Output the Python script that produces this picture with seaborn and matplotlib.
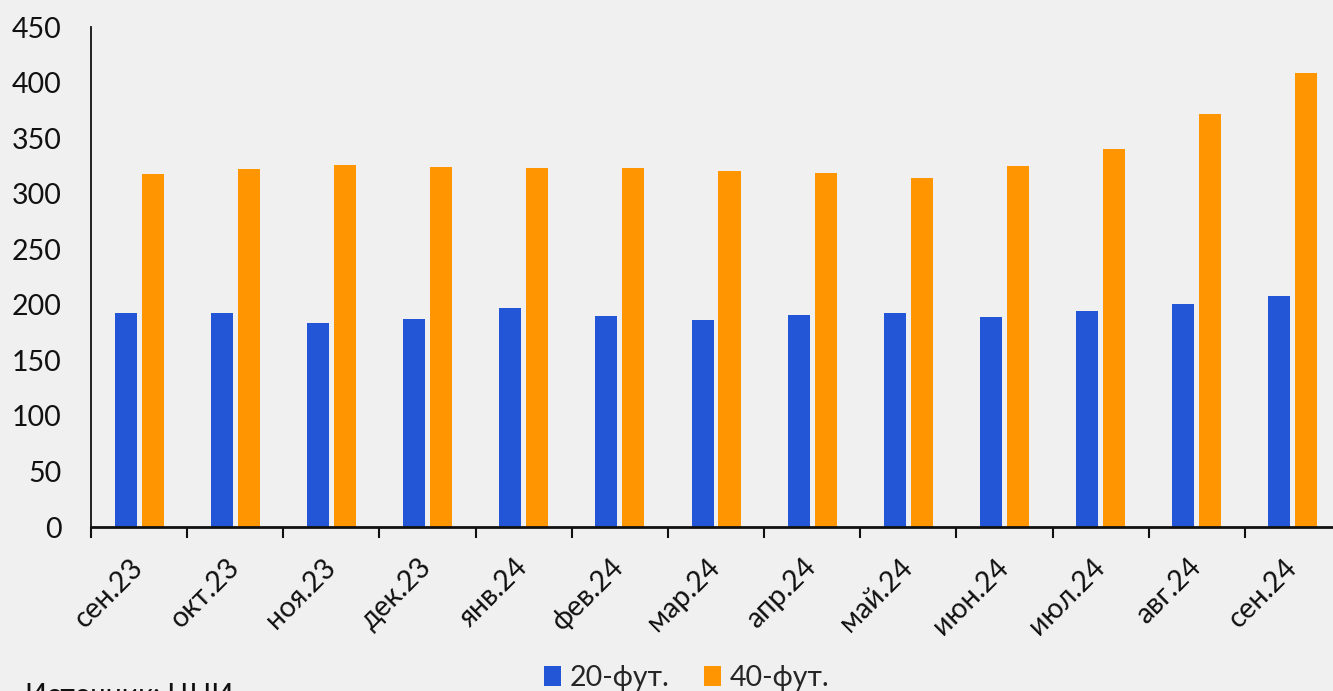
import numpy as np
import pandas as pd
import matplotlib
matplotlib.use("Agg")
import matplotlib.pyplot as plt
import seaborn as sns
from matplotlib.patches import Patch

months = ["сен.23", "окт.23", "ноя.23", "дек.23", "янв.24", "фев.24", "мар.24",
          "апр.24", "май.24", "июн.24", "июл.24", "авг.24", "сен.24"]
ft20 = [193, 193, 184, 187, 197, 190, 186, 191, 193, 189, 194, 201, 208]
ft40 = [318, 322, 326, 324, 323, 323, 320, 319, 314, 325, 340, 372, 409]
series_names = ["20-фут.", "40-фут."]
colors = ["#2356d6", "#ff9500"]
yticks = [0, 50, 100, 150, 200, 250, 300, 350, 400, 450]
source = "Источник: ЦНИ"

df = pd.DataFrame({
    "month": months * 2,
    "value": ft20 + ft40,
    "series": [series_names[0]] * len(months) + [series_names[1]] * len(months),
})

sns.set_theme(style="white")
plt.rcParams["font.family"] = ["Lato", "DejaVu Sans"]
bg = "#f0f0f0"

fig = plt.figure(figsize=(13.33, 6.91), dpi=100, facecolor=bg)
ax = fig.add_axes([0.0683, 0.2373, 0.9377, 0.7236])
ax.set_facecolor(bg)

sns.barplot(data=df, x="month", y="value", hue="series", order=months,
            hue_order=series_names, palette=colors, width=0.56, gap=0.18,
            saturation=1, linewidth=0, edgecolor="none", ax=ax, legend=False)

ax.set_xlim(-0.5, len(months) - 0.5)
ax.set_ylim(0, 450)
ax.set_yticks(yticks)
ax.set_yticklabels([str(v) for v in yticks], fontsize=20.5, color="#111111")
ax.tick_params(axis="y", length=0, pad=21)
ax.set_xlabel("")
ax.set_ylabel("")

ax.set_xticks(range(len(months)))
ax.set_xticklabels(months, rotation=45, ha="right", va="center",
                   rotation_mode="anchor", fontsize=20.5, color="#111111")
ax.tick_params(axis="x", which="major", length=0, pad=26)
ax.set_xticks(np.arange(-0.5, len(months), 1.0), minor=True)
ax.tick_params(axis="x", which="minor", length=8, width=1.5, color="#111111",
               bottom=True)

for s in ["top", "right"]:
    ax.spines[s].set_visible(False)
ax.spines["left"].set_color("#111111")
ax.spines["left"].set_linewidth(1.3)
ax.spines["bottom"].set_color("#111111")
ax.spines["bottom"].set_linewidth(2)

handles = [Patch(facecolor=c, edgecolor="none") for c in colors]
fig.legend(handles, series_names, loc="center", bbox_to_anchor=(0.515, 0.019),
           ncol=2, frameon=False, fontsize=20.5, handlelength=0.6, handleheight=0.75,
           handletextpad=0.3, columnspacing=1.2)

fig.text(0.019, 0.0116, source, ha="left", va="top", fontsize=20.5, color="#111111")

fig.savefig("out.png", dpi=100, facecolor=bg)
